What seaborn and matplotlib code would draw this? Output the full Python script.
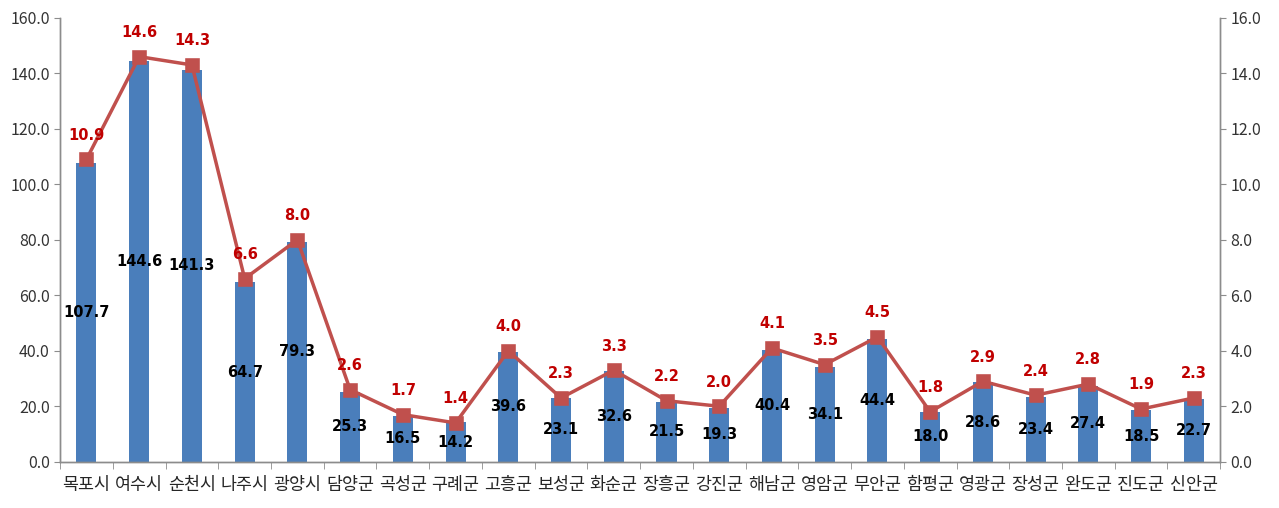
import pandas as pd
import numpy as np
import matplotlib
matplotlib.use('agg')
import matplotlib.pyplot as plt
import seaborn as sns

regions = ['목포시', '여수시', '순천시', '나주시', '광양시', '담양군', '곡성군', '구례군',
           '고흥군', '보성군', '화순군', '장흥군', '강진군', '해남군', '영암군', '무안군',
           '함평군', '영광군', '장성군', '완도군', '진도군', '신안군']
bar_values = [107.7, 144.6, 141.3, 64.7, 79.3, 25.3, 16.5, 14.2, 39.6, 23.1, 32.6,
              21.5, 19.3, 40.4, 34.1, 44.4, 18.0, 28.6, 23.4, 27.4, 18.5, 22.7]
line_values = [10.9, 14.6, 14.3, 6.6, 8.0, 2.6, 1.7, 1.4, 4.0, 2.3, 3.3,
               2.2, 2.0, 4.1, 3.5, 4.5, 1.8, 2.9, 2.4, 2.8, 1.9, 2.3]
left_ticks = np.arange(0, 161, 20)
right_ticks = np.arange(0, 16.1, 2)

BAR_COLOR = '#4A7EBB'
LINE_COLOR = '#C0504D'
LABEL_RED = '#C00000'
GRAY = '#8C8C8C'

df = pd.DataFrame({'region': regions, 'count': bar_values, 'rate': line_values})

sns.set_style('white')
plt.rcParams['font.family'] = ['Noto Sans CJK KR', 'DejaVu Sans']

fig = plt.figure(figsize=(12.79, 5.08), dpi=100)
ax = fig.add_axes([0.047, 0.091, 0.907, 0.874])
sns.barplot(data=df, x='region', y='count', ax=ax, color=BAR_COLOR, width=0.38,
            saturation=1, edgecolor='none')
ax2 = ax.twinx()
sns.pointplot(data=df, x='region', y='rate', ax=ax2, color=LINE_COLOR, markers='s',
              markersize=9, linewidth=2.5)

ax.set_ylim(0, 160)
ax2.set_ylim(0, 16)
ax.set_xlim(-0.5, len(regions) - 0.5)
ax.set_yticks(left_ticks)
ax.set_yticklabels([f'{v:.1f}' for v in left_ticks])
ax2.set_yticks(right_ticks)
ax2.set_yticklabels([f'{v:.1f}' for v in right_ticks])
ax.set_xlabel('')
ax.set_ylabel('')
ax2.set_xlabel('')
ax2.set_ylabel('')

for a in (ax, ax2):
    a.spines['top'].set_visible(False)
    for s in ('left', 'right', 'bottom'):
        a.spines[s].set_color(GRAY)
        a.spines[s].set_linewidth(1)
    a.grid(False)

ax.tick_params(axis='y', which='major', length=4, color=GRAY, labelsize=11.5,
               labelcolor='#333333', direction='out', left=True)
ax2.tick_params(axis='y', which='major', length=4, color=GRAY, labelsize=11.5,
                labelcolor='#333333', direction='out', right=True)
ax.tick_params(axis='x', which='major', length=0, labelsize=12.5, pad=10)
ax.set_xticks(np.arange(-0.5, len(regions), 1), minor=True)
ax.tick_params(axis='x', which='minor', length=5, color=GRAY, bottom=True)

for i, v in enumerate(bar_values):
    ax.text(i, v / 2, f'{v:.1f}', ha='center', va='center', fontsize=10.5,
            fontweight='bold', color='black', family=['DejaVu Sans'])
for i, v in enumerate(line_values):
    ax2.annotate(f'{v:.1f}', (i, v), xytext=(0, 12), textcoords='offset points',
                 ha='center', va='bottom', fontsize=10.5, fontweight='bold',
                 color=LABEL_RED, family=['DejaVu Sans'])

plt.savefig('out.png', dpi=100)
plt.close(fig)
